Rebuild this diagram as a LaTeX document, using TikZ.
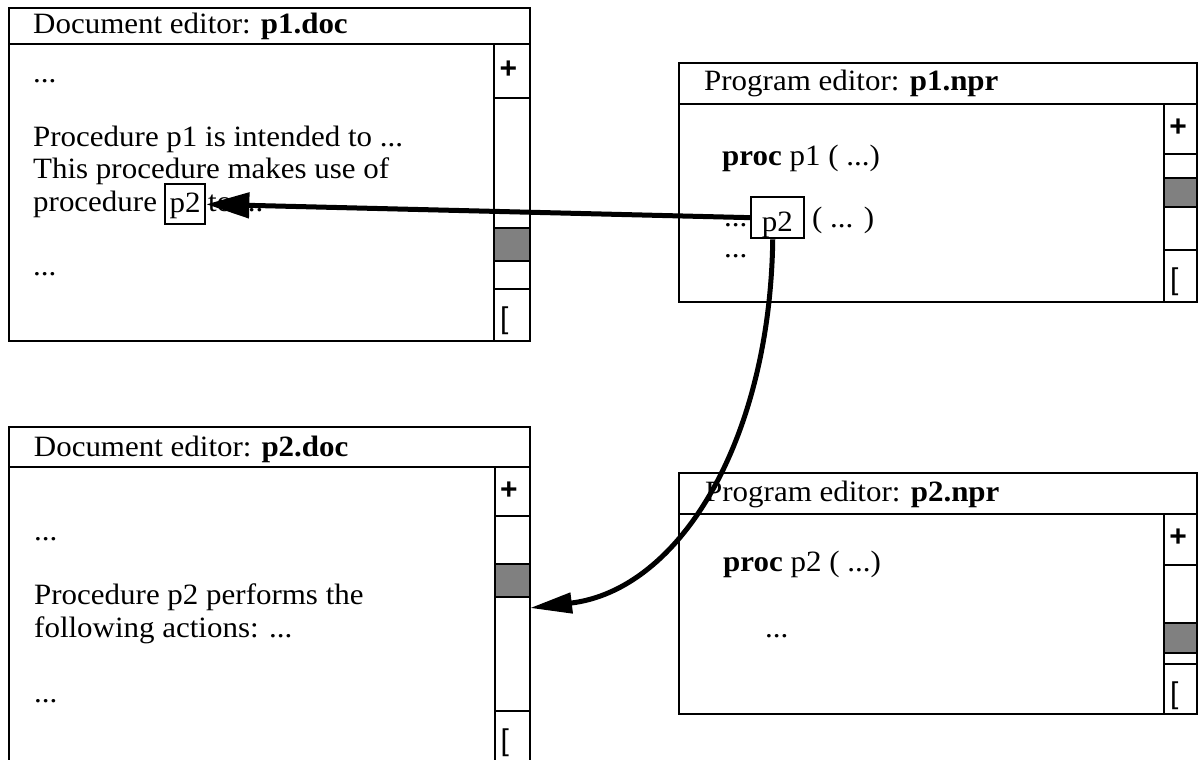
\documentclass[tikz,border=0pt]{standalone}
\usepackage{fontspec}
\setmainfont{Liberation Serif}[FakeStretch=1.05]
\newfontfamily\sansf{Liberation Sans}
\usetikzlibrary{arrows.meta}
\definecolor{thumbgray}{RGB}{128,128,128}
\begin{document}
\begin{tikzpicture}[x=1pt,y=-1pt,
  frame/.style={draw=black,line width=2pt},
  thumb/.style={draw=black,line width=2pt,fill=thumbgray},
  txt/.style={anchor=base west,inner sep=0pt,font=\fontsize{29.5}{33}\selectfont},
  refbox/.style={draw=black,line width=2pt,inner sep=0pt,anchor=north west,font=\fontsize{29.5}{33}\selectfont},
  plussign/.style={inner sep=0pt,anchor=center,font=\sansf\bfseries\fontsize{30}{30}\selectfont},
  brack/.style={inner sep=0pt,anchor=base west,font=\sansf\fontsize{30}{30}\selectfont},
  link/.style={line width=5pt,-{Triangle[length=43pt,width=25pt]}},
  curvelink/.style={line width=5pt,-{Triangle[length=42pt,width=20pt]}}]
\useasboundingbox (0,0) rectangle (1200,760);
\clip (0,0) rectangle (1200,760);

% ---------- Window 1: Document editor p1.doc ----------
\draw[frame] (9,8) rectangle (530,44.5);
\draw[frame] (9,44.5) rectangle (494,341);
\draw[frame] (494,44.5) rectangle (530,98);
\draw[frame] (494,98) rectangle (530,289);
\draw[thumb] (494,228) rectangle (530,261);
\draw[frame] (494,289) rectangle (530,341);
\node[plussign] (w1plus) at (508.5,70) {+};
\node[brack] (w1br) at (500,328.5) {[};
\node[txt] (w1title) at (33,33.5) {Document editor:\hspace{10pt}\textbf{p1.doc}};
\node[txt] (w1a) at (33,83) {...};
\node[txt] (w1b) at (33,146.7) {Procedure p1 is intended to ...};
\node[txt] (w1c) at (33,178.7) {This procedure makes use of};
\node[txt] (w1d) at (33,211.5) {procedure};
\node[refbox,minimum width=40.3pt,text height=28.2pt,text depth=11.8pt] (p2a) at (164,183.3) {p2};
\node[txt] (w1e) at (208,211.5) {to ...};
\node[txt] (w1f) at (33,275) {...};

% ---------- Window 2: Program editor p1.npr ----------
\draw[frame] (678.5,63.3) rectangle (1197,103.5);
\draw[frame] (678.5,103.5) rectangle (1164,302);
\draw[frame] (1164,103.5) rectangle (1197,153.5);
\draw[frame] (1164,153.5) rectangle (1197,250);
\draw[thumb] (1164,178.3) rectangle (1197,206.7);
\draw[frame] (1164,250) rectangle (1197,302);
\node[plussign] (w2plus) at (1178,128) {+};
\node[brack] (w2br) at (1170,289.5) {[};
\node[txt] (w2title) at (704,90) {Program editor: \textbf{p1.npr}};
\node[txt] (w2a) at (722,165) {\textbf{proc} p1 ( ...)};
\node[txt] (w2b) at (724,226) {...};
\node[refbox,minimum width=52.5pt,text height=34pt,text depth=7.3pt] (p2b) at (750,196) {p2};
\node[txt] (w2c) at (812,227) {( ... )};
\node[txt] (w2d) at (724,257) {...};

% ---------- Window 3: Document editor p2.doc ----------
\draw[frame] (9,426.7) rectangle (530,466.5);
\draw[frame] (9,466.5) rectangle (494.5,790);
\draw[frame] (494.5,466.5) rectangle (530,516);
\draw[frame] (494.5,516) rectangle (530,711);
\draw[thumb] (494.5,564) rectangle (530,597);
\draw[frame] (494.5,711) rectangle (530,790);
\node[plussign] (w3plus) at (509,491) {+};
\node[brack] (w3br) at (500.5,750.5) {[};
\node[txt] (w3title) at (33.7,456.5) {Document editor:\hspace{10pt}\textbf{p2.doc}};
\node[txt] (w3a) at (34,540) {...};
\node[txt] (w3b) at (34,604) {Procedure p2 performs the};
\node[txt] (w3c) at (34,637) {following actions: ...};
\node[txt] (w3d) at (34,702) {...};
\coordinate (tip3) at (530,608);

% ---------- Window 4: Program editor p2.npr ----------
\draw[frame] (678.5,473) rectangle (1197,514);
\draw[frame] (678.5,514) rectangle (1164,714);
\draw[frame] (1164,514) rectangle (1197,565);
\draw[frame] (1164,565) rectangle (1197,664);
\draw[thumb] (1164,623) rectangle (1197,653);
\draw[frame] (1164,664) rectangle (1197,714);
\node[plussign] (w4plus) at (1178,538) {+};
\node[brack] (w4br) at (1170,703.5) {[};
\node[txt] (w4title) at (705,501.7) {Program editor: \textbf{p2.npr}};
\node[txt] (w4a) at (723,571) {\textbf{proc} p2 ( ...)};
\node[txt] (w4b) at (765,637) {...};

% ---------- Links ----------
\draw[link] (p2b.west) -- (p2a.east);
\draw[curvelink] ([xshift=-4.5pt]p2b.south) .. controls (770,440) and (680,590) .. (tip3);
\end{tikzpicture}
\end{document}
